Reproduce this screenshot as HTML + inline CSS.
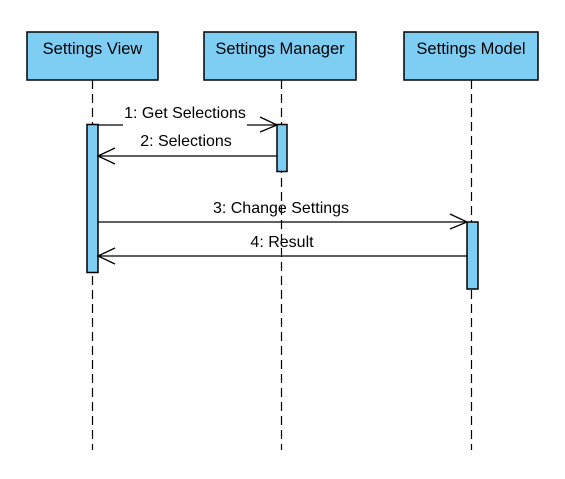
<!DOCTYPE html>
<html><head><style>body{margin:0;background:#fff}svg{display:block}</style></head><body>
<svg width="565" height="479" xmlns="http://www.w3.org/2000/svg" font-family="Liberation Sans, Arial, sans-serif" font-size="16">
<rect width="565" height="479" fill="#fff"/>
<g stroke="#000" stroke-width="1.2" stroke-dasharray="9,5" fill="none">
<line x1="92.5" y1="80" x2="92.5" y2="450"/>
<line x1="281.5" y1="80" x2="281.5" y2="450"/>
<line x1="471.5" y1="80" x2="471.5" y2="450"/>
</g>
<g fill="#7ecef4" stroke="#000" stroke-width="1.5">
<rect x="27" y="32" width="131" height="48"/>
<rect x="204" y="32" width="152" height="48"/>
<rect x="404" y="32" width="134" height="48"/>
<rect x="87" y="124.5" width="11" height="148"/>
<rect x="277" y="124.5" width="10" height="47"/>
<rect x="467" y="222" width="11" height="67"/>
</g>
<g font-size="16.5" text-anchor="middle" fill="#000">
<text x="92.5" y="54">Settings View</text>
<text x="280" y="54">Settings Manager</text>
<text x="471" y="54">Settings Model</text>
</g>
<g stroke="#000" stroke-width="1.3" fill="none">
<line x1="98" y1="125" x2="123" y2="125"/>
<line x1="247" y1="125" x2="277" y2="125"/>
<polyline points="260,117 277,125 260,132"/>
<line x1="98" y1="156" x2="277" y2="156"/>
<polyline points="115,148 98,156 115,164"/>
<line x1="98" y1="222" x2="467" y2="222"/>
<polyline points="450,214 467,222 450,229"/>
<line x1="98" y1="256" x2="467" y2="256"/>
<polyline points="115,248 98,256 115,264"/>
</g>
<g text-anchor="middle" fill="#000">
<text x="185" y="118">1: Get Selections</text>
<text x="186" y="146">2: Selections</text>
<text x="281" y="213">3: Change Settings</text>
<text x="282" y="247">4: Result</text>
</g>
</svg>
</body></html>
